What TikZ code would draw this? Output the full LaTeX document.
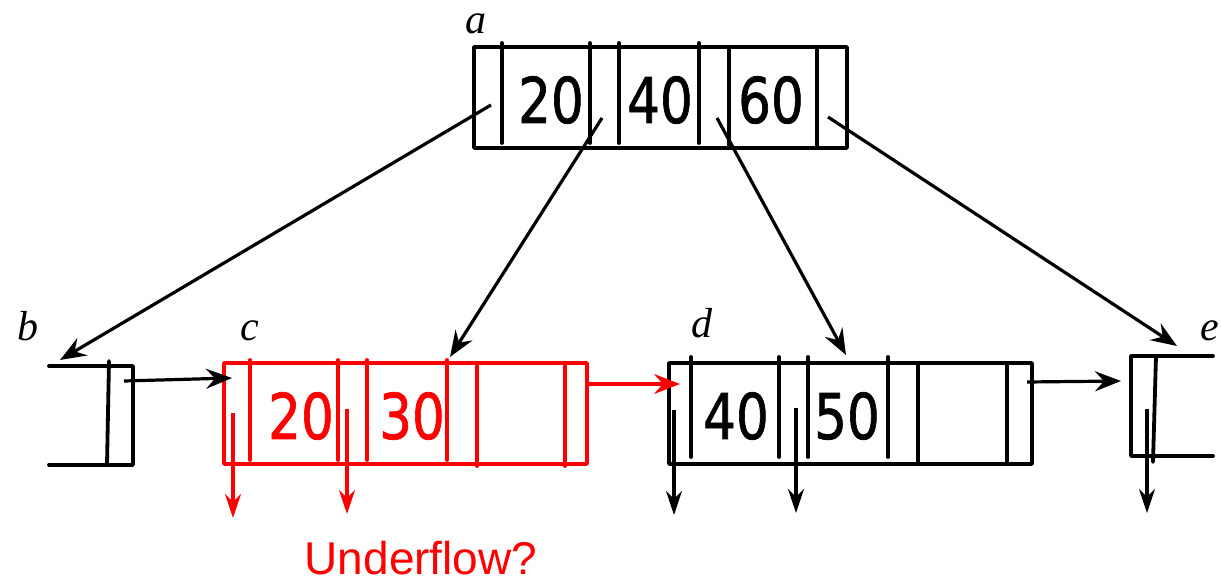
\documentclass[tikz,border=0pt]{standalone}
\usepackage{fontspec}
\setmainfont{Liberation Serif}
\newfontfamily\digitfont[FakeBold=1.2]{DejaVu Sans}
\newfontfamily\notefont{Liberation Sans}
\usetikzlibrary{arrows.meta}
\definecolor{uflow}{RGB}{255,0,0}
\begin{document}
\begin{tikzpicture}[x=1pt,y=-1pt,
  box/.style={line width=3.8pt, line join=round, line cap=round},
  nodebox/.style={draw, line width=3.8pt, line join=round, inner sep=0pt, outer sep=0pt, minimum width=#1, minimum height=101pt},
  ptr/.style={line width=3.2pt, -{Stealth[length=26pt,width=20pt,inset=9pt]}},
  dptr/.style={line width=3.2pt, -{Stealth[length=24pt,width=16pt,inset=8pt]}},
  key/.style={font=\digitfont\fontsize{63}{63}\selectfont, inner sep=0pt},
  lbl/.style={font=\itshape\fontsize{42}{42}\selectfont, inner sep=0pt},
  note/.style={font=\notefont\fontsize{46}{46}\selectfont, inner sep=0pt, text=uflow}]
\useasboundingbox (0,0) rectangle (1221,586);

% ---------- node a ----------
\node[nodebox=373pt] (a) at (660.5,97.5) {};
\foreach \x in {502,590,619,699} \draw[box] (\x,43) -- (\x,143);
\foreach \x in {729,817} \draw[box] (\x,47) -- (\x,148);
\node[key] (a20) at (551,100) {\scalebox{0.82}[1]{20}};
\node[key] (a40) at (660,100) {\scalebox{0.82}[1]{40}};
\node[key] (a60) at (771,100) {\scalebox{0.82}[1]{60}};
\node[lbl] (la) at (476,24) {a};

% ---------- node b (partial) ----------
\draw[box] (49,366) -- (133,366) -- (133,465) -- (49,465);
\draw[box] (109,361) -- (107,465);
\node[lbl] (lb) at (28,326) {b};

% ---------- node c (red) ----------
\begin{scope}[draw=uflow, color=uflow]
\node[nodebox=363pt, draw=uflow] (c) at (405.5,413.5) {};
\foreach \x in {250,338,367,447} \draw[box] (\x,360) -- (\x,460);
\foreach \x in {477,565} \draw[box] (\x,366) -- (\x,466);
\node[key, text=uflow] (c20) at (301,416) {\scalebox{0.82}[1]{20}};
\node[key, text=uflow] (c30) at (412,416) {\scalebox{0.82}[1]{30}};
\end{scope}
\node[lbl] (lc) at (250,331) {c};

% ---------- node d ----------
\node[nodebox=363pt] (d) at (850.5,413.5) {};
\foreach \x in {691,779,808,888} \draw[box] (\x,357) -- (\x,457);
\foreach \x in {918,1007} \draw[box] (\x,363) -- (\x,464);
\node[key] (d40) at (736,416) {\scalebox{0.82}[1]{40}};
\node[key] (d50) at (847,416) {\scalebox{0.82}[1]{50}};
\node[lbl] (ld) at (702,323) {d};

% ---------- node e (partial) ----------
\draw[box] (1213,356) -- (1131,356) -- (1131,456) -- (1213,456);
\draw[box] (1156,356) -- (1153,462);
\node[lbl] (le) at (1210,331) {e};

% ---------- pointer end points ----------
\coordinate (ap0) at (491,105);
\coordinate (ap1) at (602,118);
\coordinate (ap2) at (717,118);
\coordinate (ap3) at (828,117);
\coordinate (bin) at (60,360);
\coordinate (cin) at (450,357);
\coordinate (din) at (846,355);
\coordinate (ein) at (1177,346);
\coordinate (bnext) at (124,381);
\coordinate (cleft) at (232,378);
\coordinate (cnext) at (585,384);
\coordinate (dleft) at (680,384);
\coordinate (dnext) at (1027,382);
\coordinate (eleft) at (1121,381);
\coordinate (cp0) at (233,413);  \coordinate (cq0) at (233,518);
\coordinate (cp1) at (347,409);  \coordinate (cq1) at (347,514);
\coordinate (dp0) at (674,410);  \coordinate (dq0) at (674,515);
\coordinate (dp1) at (796,408);  \coordinate (dq1) at (796,513);
\coordinate (ep0) at (1147,409); \coordinate (eq0) at (1147,513);

% ---------- connectors ----------
\draw[ptr] (ap0) -- (bin);
\draw[ptr] (ap1) -- (cin);
\draw[ptr] (ap2) -- (din);
\draw[ptr] (ap3) -- (ein);
\draw[ptr] (bnext) -- (cleft);
\draw[ptr, uflow] (cnext) -- (dleft);
\draw[ptr] (dnext) -- (eleft);
\draw[dptr, uflow] (cp0) -- (cq0);
\draw[dptr, uflow] (cp1) -- (cq1);
\draw[dptr] (dp0) -- (dq0);
\draw[dptr] (dp1) -- (dq1);
\draw[dptr] (ep0) -- (eq0);

\node[note] (uf) at (421,558) {Underflow?};
\end{tikzpicture}
\end{document}
